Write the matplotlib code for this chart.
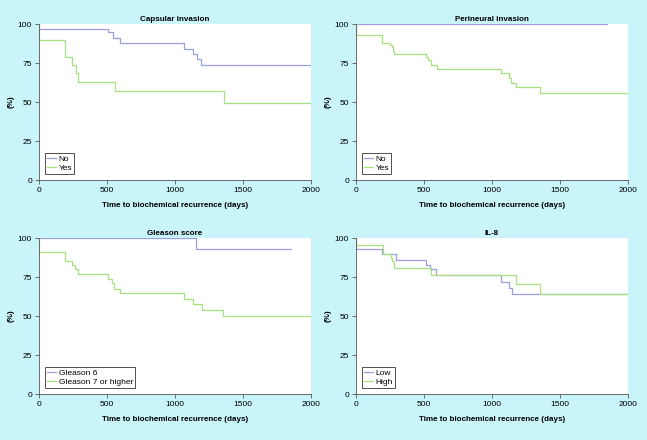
import matplotlib
matplotlib.use("Agg")
import matplotlib.pyplot as plt

plt.rcParams['font.family'] = ['Liberation Sans', 'DejaVu Sans']

# ---- data ----
# Capsular invasion
cap_no_t = [0, 0, 508, 545, 595, 1069, 1135, 1160, 1189, 2000]
cap_no_s = [100, 97, 94.6, 91, 87.8, 84, 81, 77.5, 73.7, 73.7]
cap_yes_t = [0, 0, 189, 246, 275, 290, 558, 1361, 2000]
cap_yes_s = [100, 89.5, 78.8, 73.7, 68.5, 63, 57.2, 49.3, 49.3]

# Perineural invasion
per_no_t = [0, 1848]
per_no_s = [100, 100]
per_yes_t = [0, 0, 188, 250, 262, 272, 283, 514, 530, 555, 597, 1070, 1126, 1143, 1180, 1351, 2000]
per_yes_s = [100, 93.1, 87.8, 86.5, 85, 83, 81, 79, 77, 74, 71, 68.7, 65.5, 62.5, 59.6, 56, 56]

# Gleason score
gl6_t = [0, 1152, 1852]
gl6_s = [100, 93.2, 93.2]
gl7_t = [0, 0, 189, 246, 268, 283, 508, 533, 550, 595, 1069, 1135, 1197, 1356, 2000]
gl7_s = [100, 90.8, 85, 82.5, 80, 77, 73.5, 71, 67.3, 64.7, 60.7, 57.5, 53.8, 49.8, 49.8]

# IL-8
il_low_t = [0, 0, 193, 291, 512, 543, 592, 1070, 1124, 1150, 2000]
il_low_s = [100, 92.9, 89.7, 85.9, 83, 80, 76, 72, 68, 64.2, 64.2]
il_high_t = [0, 0, 196, 255, 268, 280, 551, 1180, 1356, 2000]
il_high_s = [100, 95.3, 89.7, 87, 85, 80.5, 76, 70.7, 64.2, 64.2]

panels = [
    ("Capsular invasion", [(cap_no_t, cap_no_s, "No"), (cap_yes_t, cap_yes_s, "Yes")]),
    ("Perineural invasion", [(per_no_t, per_no_s, "No"), (per_yes_t, per_yes_s, "Yes")]),
    ("Gleason score", [(gl6_t, gl6_s, "Gleason 6"), (gl7_t, gl7_s, "Gleason 7 or higher")]),
    ("IL-8", [(il_low_t, il_low_s, "Low"), (il_high_t, il_high_s, "High")]),
]

colors = ['#9b9fe0', '#a6e07f']
bg = '#c8f4fa'

fig = plt.figure(figsize=(6.47, 4.40), dpi=100, facecolor=bg)

# axes rectangles (left, bottom, width, height) in figure fractions
rects = [
    (0.0603, 0.5909, 0.4204, 0.3545),
    (0.5502, 0.5909, 0.4204, 0.3545),
    (0.0603, 0.1045, 0.4204, 0.3545),
    (0.5502, 0.1045, 0.4204, 0.3545),
]

for rect, (title, series) in zip(rects, panels):
    ax = fig.add_axes(rect)
    ax.set_facecolor('white')
    for (t, s, lab), c in zip(series, colors):
        ax.step(t, s, where='post', color=c, lw=0.9, label=lab)
    ax.set_xlim(0, 2000)
    ax.set_ylim(0, 100)
    ax.set_xticks([0, 500, 1000, 1500, 2000])
    ax.set_yticks([0, 25, 50, 75, 100])
    ax.tick_params(labelsize=6, length=3, width=0.6, color='#555555', pad=2)
    for sp in ['top', 'right']:
        ax.spines[sp].set_visible(False)
    for sp in ['left', 'bottom']:
        ax.spines[sp].set_color('#555555')
        ax.spines[sp].set_linewidth(0.6)
    ax.set_title(title, fontsize=5.8, fontweight='bold', pad=2)
    ax.set_xlabel("Time to biochemical recurrence (days)", fontsize=5.8,
                  fontweight='bold', labelpad=6)
    ax.set_ylabel("(%)", fontsize=5.8, fontweight='bold', labelpad=2)
    leg = ax.legend(loc='lower left', fontsize=6, handlelength=1.1,
                    handletextpad=0.3, borderpad=0.25, labelspacing=0.15,
                    fancybox=False, framealpha=1, borderaxespad=0.7)
    leg.get_frame().set_edgecolor('#333333')
    leg.get_frame().set_linewidth(0.6)

fig.savefig('out.png', dpi=100, facecolor=bg)
